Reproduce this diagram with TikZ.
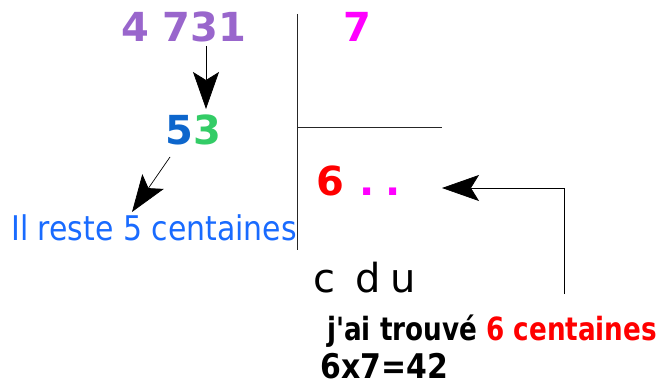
\documentclass[tikz,border=0pt]{standalone}
\usepackage{fontspec}
\setmainfont{DejaVu Sans}
\usepackage{xcolor}
\usetikzlibrary{arrows.meta}
\definecolor{dividend}{rgb}{0.60, 0.40, 0.80}
\definecolor{divisor}{rgb}{1.0, 0.0, 1.0}
\definecolor{reste}{rgb}{0.05, 0.40, 0.80}
\definecolor{lowered}{rgb}{0.20, 0.80, 0.40}
\definecolor{remtext}{rgb}{0.10, 0.42, 1.0}
\definecolor{quot}{rgb}{1.0, 0.0, 0.0}

\tikzset{
	txt/.style={inner sep=0pt, anchor=base west},
	narrow/.style={xscale=#1, transform shape},
	bigarrow/.style={-{Stealth[length=37pt, width=26pt, inset=8pt]}, line width=0.7pt},
	divline/.style={line width=0.8pt, black!85},
}

\begin{document}
\begin{tikzpicture}[x=1pt, y=-1pt]
\useasboundingbox (0,0) rectangle (672,385);
% dividend and divisor
\node[txt, text=dividend] (dvd) at (121,42) {\fontsize{40}{40}\selectfont\bfseries 4 731};
\node[txt, text=divisor] (dvs) at (343,42) {\fontsize{40}{40}\selectfont\bfseries 7};
% division frame
\draw[divline] (297,14) -- (297,250);
\draw[divline] (297,127) -- (442,127);
% first partial dividend
\node[txt] (part) at (165,145) {\fontsize{40}{40}\selectfont\bfseries\textcolor{reste}{5}\textcolor{lowered}{3}};
\coordinate (a1s) at (206,46);
\coordinate (a1e) at (206,109);
\draw[bigarrow] (a1s) -- (a1e);
% remainder
\node[txt, text=remtext, narrow=0.88] (rem) at (11,240) {\fontsize{34}{34}\selectfont Il reste 5 centaines};
\coordinate (a2s) at (170,157);
\coordinate (a2e) at (132,212);
\draw[bigarrow] (a2s) -- (a2e);
% quotient
\node[txt] (quo) at (316,195) {\fontsize{40}{40}\selectfont\bfseries\textcolor{quot}{6}\textcolor{divisor}{\hspace{0.38em}.\hspace{0.28em}.}};
\node[txt] (cdu) at (313,292) {\fontsize{40}{40}\selectfont c\hspace{0.5em}d\hspace{0.25em}u};
% explanation
\node[txt, narrow=0.82] (found) at (327,340) {\fontsize{32}{32}\selectfont\bfseries j\textquotesingle ai trouvé \textcolor{quot}{6 centaines}};
\node[txt, narrow=0.88] (prod) at (320,378) {\fontsize{34}{34}\selectfont\bfseries 6x7=42};
\coordinate (a3s) at (564,294);
\coordinate (a3e) at (442,188);
\draw[bigarrow] (a3s) |- (a3e);
\end{tikzpicture}
\end{document}
